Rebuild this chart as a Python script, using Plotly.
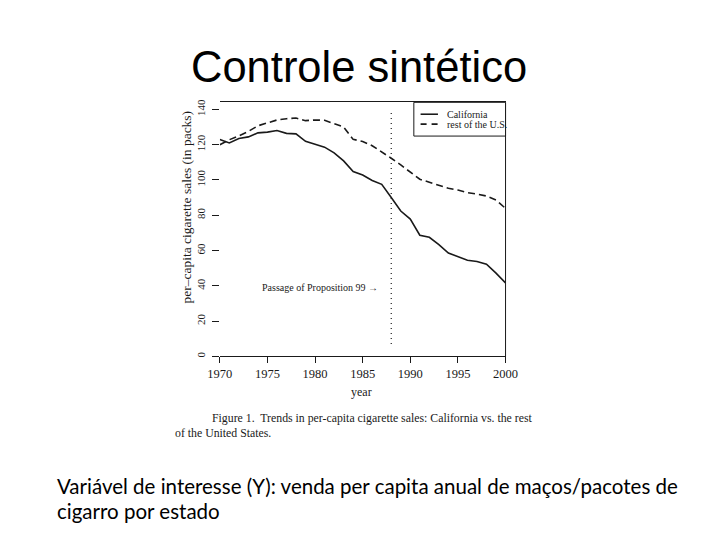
import plotly.graph_objects as go

years = list(range(1970, 2001))
california = [123.0, 121.0, 123.5, 124.4, 126.7, 127.1, 128.0, 126.4, 126.1, 121.9,
              120.2, 118.6, 115.4, 110.8, 104.8, 102.8, 99.7, 97.5, 90.1, 82.4,
              77.8, 68.7, 67.5, 63.4, 58.6, 56.4, 54.5, 53.8, 52.3, 47.2, 41.6]
rest_us = [120.0, 122.8, 125.0, 127.5, 130.7, 132.3, 134.0, 134.7, 135.1, 133.6,
           134.0, 133.8, 131.7, 130.0, 123.0, 121.8, 119.4, 116.0, 112.3, 108.5,
           104.2, 100.4, 98.7, 97.2, 95.3, 94.3, 92.8, 92.0, 90.9, 88.6, 83.9]
series_names = ["California", "rest of the U.S."]
x_ticks = [1970, 1975, 1980, 1985, 1990, 1995, 2000]
y_ticks = [0, 20, 40, 60, 80, 100, 120, 140]
prop99_year = 1988
prop99_span = [7, 139]
prop99_label_y = 39

W, H = 720, 540
OFF = 8  # page body margin


def px(x):
    return (x - OFF) / W


def py(y):
    return 1 - (y - OFF) / H


serif = "Liberation Serif, Times New Roman, serif"
ink = "#1a1a1a"
dash_pat = "7px,4px"

fig = go.Figure()
fig.add_trace(go.Scatter(x=years, y=california, mode="lines", name=series_names[0],
                         line=dict(color=ink, width=1.6), showlegend=False))
fig.add_trace(go.Scatter(x=years, y=rest_us, mode="lines", name=series_names[1],
                         line=dict(color=ink, width=1.6, dash=dash_pat), showlegend=False))
fig.add_trace(go.Scatter(x=[prop99_year, prop99_year], y=prop99_span, mode="lines",
                         showlegend=False, hoverinfo="skip",
                         line=dict(color=ink, width=1.2, dash="1px,4px")))

# legend box (top-right of the plot)
leg_x0, leg_x1, leg_y0, leg_y1 = px(416), px(511), py(134), py(100)
row_y = [py(112), py(122)]
row_dash = ["solid", "6px,5px"]
shapes = [
    dict(type="line", xref="x domain", yref="y domain", x0=1, x1=1, y0=0, y1=1,
         line=dict(color=ink, width=1)),
    dict(type="rect", xref="paper", yref="paper", x0=leg_x0, x1=leg_x1, y0=leg_y0, y1=leg_y1,
         line=dict(color=ink, width=1), fillcolor="white", layer="above"),
]
for ry, dsh in zip(row_y, row_dash):
    shapes.append(dict(type="line", xref="paper", yref="paper", x0=px(423), x1=px(441),
                       y0=ry, y1=ry, line=dict(color=ink, width=1.6, dash=dsh), layer="above"))

fig.update_layout(
    width=W, height=H,
    margin=dict(l=0, r=0, t=0, b=0),
    paper_bgcolor="white", plot_bgcolor="white",
    showlegend=False,
    xaxis=dict(domain=[px(215), px(511)], range=[1970, 2000],
               tickvals=x_ticks, ticks="outside", ticklen=6, tickcolor=ink,
               showline=True, linecolor=ink, linewidth=1, mirror=True,
               showgrid=False, zeroline=False,
               tickfont=dict(family=serif, size=12.5, color=ink)),
    yaxis=dict(domain=[py(356), py(100)], range=[0, 144],
               tickvals=y_ticks, ticks="outside", ticklen=7, tickcolor=ink,
               tickangle=-90, ticklabelstandoff=2,
               showline=False, showgrid=False, zeroline=False,
               tickfont=dict(family=serif, size=11, color=ink)),
    shapes=shapes,
)


def ann(text, x, y, size, family=serif, xanchor="center", yanchor="middle", **kw):
    return dict(text=text, x=x, y=y, xref="paper", yref="paper", showarrow=False,
                xanchor=xanchor, yanchor=yanchor,
                font=dict(family=family, size=size, color=kw.pop("color", ink)), **kw)


anns = [
    ann("Controle sintético", px(359), py(64), 43.5,
        family="Liberation Sans, Arial, sans-serif", color="black"),
    dict(text="Passage of Proposition 99 \u2192", x=prop99_year - 1.2, y=prop99_label_y,
         xref="x", yref="y", xanchor="right", yanchor="middle", showarrow=False,
         font=dict(family=serif, size=10, color=ink)),
    ann("year", px(362), py(392), 12),
    ann("per\u2013capita cigarette sales (in packs)", px(181), py(205), 13.5, textangle=-90),
    ann("Figure 1.  Trends in per-capita cigarette sales: California vs. the rest",
        px(205), py(418), 11.8, xanchor="left"),
    ann("of the United States.", px(167), py(433), 11.8, xanchor="left"),
    ann(series_names[0], px(448), row_y[0], 10, xanchor="left"),
    ann(series_names[1], px(448), row_y[1], 10, xanchor="left"),
    ann("Variável de interesse (Y): venda per capita anual de maços/pacotes de",
        px(44), py(487), 20.5, family="Lato, Open Sans, sans-serif", xanchor="left", color="black"),
    ann("cigarro por estado", px(44), py(512), 20.5, family="Lato, Open Sans, sans-serif",
        xanchor="left", color="black"),
]
fig.update_layout(annotations=anns)

fig.write_html("out.html")
